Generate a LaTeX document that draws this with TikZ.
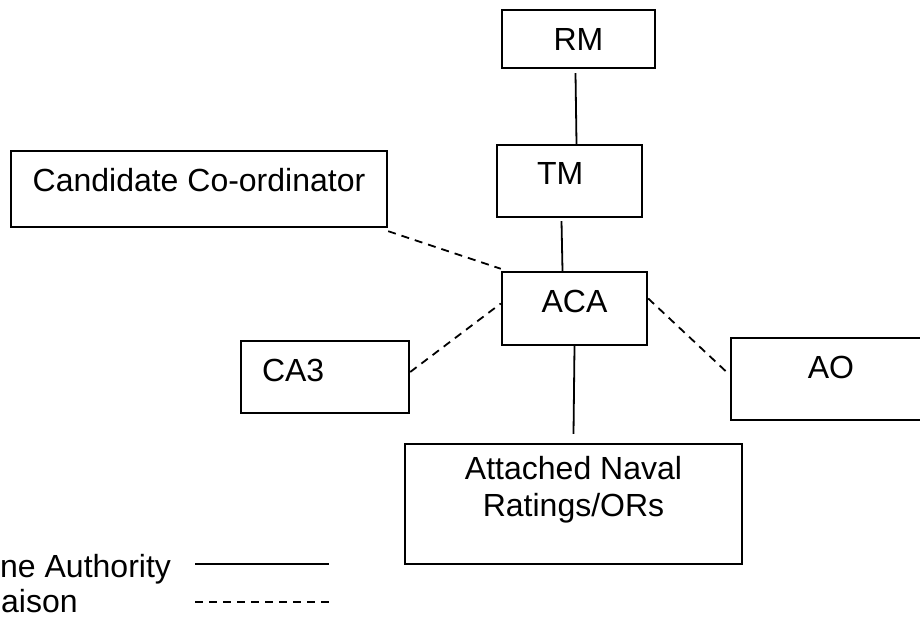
\documentclass[tikz,border=0pt]{standalone}
\usepackage{fontspec}
\setmainfont{Liberation Sans}
\usetikzlibrary{positioning}
\begin{document}
\begin{tikzpicture}[x=1pt,y=-1pt,
  box/.style={draw=black,line width=2.4pt,rectangle,inner sep=0pt,font=\fontsize{32}{37}\selectfont},
  link/.style={draw=black,line width=1.8pt},
  liaison/.style={link,dash pattern=on 8pt off 6pt},
  key/.style={inner sep=0pt,font=\fontsize{32}{37}\selectfont}]
\useasboundingbox (0,0) rectangle (920,617);
\clip (0,0) rectangle (920,617);
\node [box,minimum width=153pt,minimum height=58pt] (rm) at (578.5,39) {RM};
\node [box,minimum width=145pt,minimum height=72pt,text width=65pt,align=left,text depth=16pt] (tm) at (569.5,181) {TM};
\node [box,minimum width=376pt,minimum height=76pt,text depth=18pt] (cand) at (199,189) {Candidate Co-ordinator};
\node [box,minimum width=145pt,minimum height=73pt,text depth=15pt] (aca) at (574.5,308.5) {ACA};
\node [box,minimum width=168pt,minimum height=72pt,text width=126pt,align=left,text depth=14pt] (ca3) at (325,377) {CA3};
\node [box,minimum width=200pt,minimum height=82pt,text depth=24pt] (ao) at (831,379) {AO};
\node [box,minimum width=337pt,minimum height=120pt,align=center,text depth=35pt] (att) at (573.5,504) {Attached Naval\\Ratings/ORs};
\draw [link] ([xshift=-3pt,yshift=-4pt]rm.south) -- ([xshift=7pt]tm.north);
\draw [link] ([xshift=-8pt,yshift=-3pt]tm.south) -- ([xshift=-12pt]aca.north);
\draw [link] (aca.south) -- ([yshift=9pt]att.north);
\draw [liaison] ([yshift=-3pt]cand.south east) -- ([yshift=2pt]aca.north west);
\draw [liaison] ([yshift=5pt]ca3.east) -- ([yshift=5pt]aca.west);
\draw [liaison] ([yshift=10pt]aca.east) -- ([yshift=4pt]ao.west);
\node [key,anchor=base west] (lineauth) at (0,577) {ne Authority};
\node [key,anchor=base west] (liaisonkey) at (1,612) {aison};
\coordinate (la1) at (195,564);
\coordinate (la2) at (329,564);
\coordinate (li1) at (195,602);
\coordinate (li2) at (329,602);
\draw [link] (la1) -- (la2);
\draw [liaison] (li1) -- (li2);
\end{tikzpicture}
\end{document}
